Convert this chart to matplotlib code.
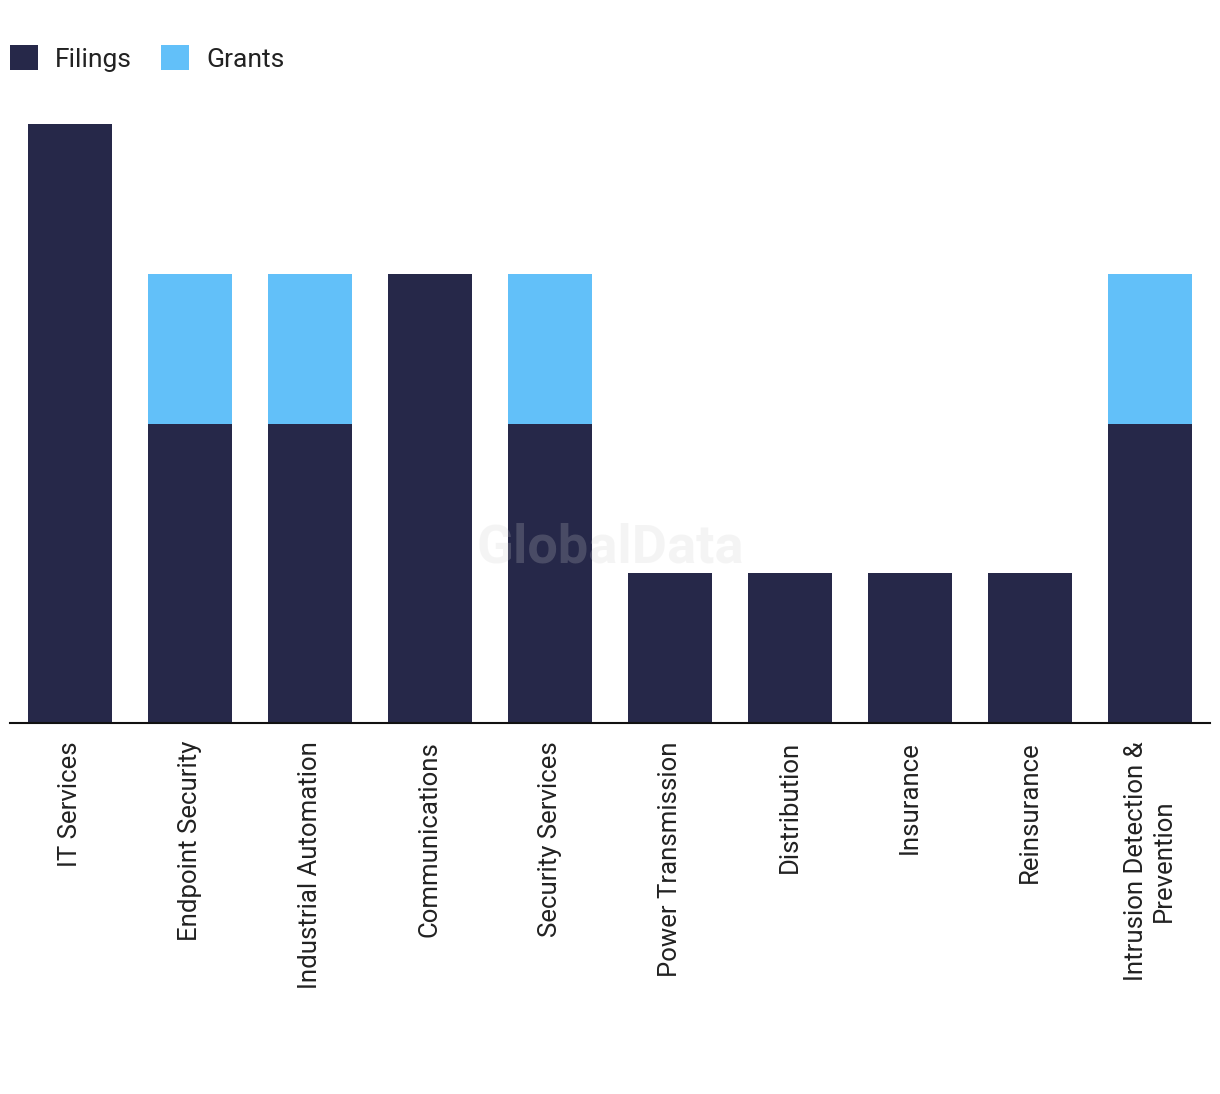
import matplotlib.pyplot as plt
import numpy as np

plt.rcParams['font.family'] = ['Roboto', 'DejaVu Sans']

# Data
categories = ['IT Services', 'Endpoint Security', 'Industrial Automation', 'Communications',
              'Security Services', 'Power Transmission', 'Distribution', 'Insurance',
              'Reinsurance', 'Intrusion Detection &\nPrevention']
filings = [4, 2, 2, 3, 2, 1, 1, 1, 1, 2]
grants = [0, 1, 1, 0, 1, 0, 0, 0, 0, 1]

dark = '#262849'
light = '#62c0f9'

fig = plt.figure(figsize=(12.2, 10.94), dpi=100)
ax = fig.add_axes([10 / 1220, (1094 - 723) / 1094, 1200 / 1220, (723 - 124) / 1094])

x = np.arange(len(categories))
ax.bar(x, filings, width=0.7, color=dark, label='Filings')
ax.bar(x, grants, width=0.7, bottom=filings, color=light, label='Grants')

ax.set_xlim(-0.5, len(categories) - 0.5)
ax.set_ylim(0, 4)
ax.set_xticks(x)
ax.set_xticklabels(categories, rotation=90, va='top', ha='center',
                   fontsize=18.5, color='#222222', linespacing=1.2)
ax.tick_params(axis='x', length=0, pad=13)
ax.set_yticks([])
for side in ['top', 'left', 'right']:
    ax.spines[side].set_visible(False)
ax.spines['bottom'].set_linewidth(1.5)
ax.spines['bottom'].set_color('#111111')

# watermark
ax.text(0.5, 0.292, 'GlobalData', transform=ax.transAxes, ha='center', va='center',
        fontsize=39, fontweight='bold', color='#cfcfcf', alpha=0.21, zorder=5)

# legend
fig.legend(loc='upper left', bbox_to_anchor=(10 / 1220, 1 - 45 / 1094), ncol=2, frameon=False,
           fontsize=19, handlelength=1.06, handleheight=1.1, handletextpad=0.65,
           columnspacing=1.1, borderpad=0, borderaxespad=0, labelcolor='#222222')

fig.savefig('out.png', dpi=100)
